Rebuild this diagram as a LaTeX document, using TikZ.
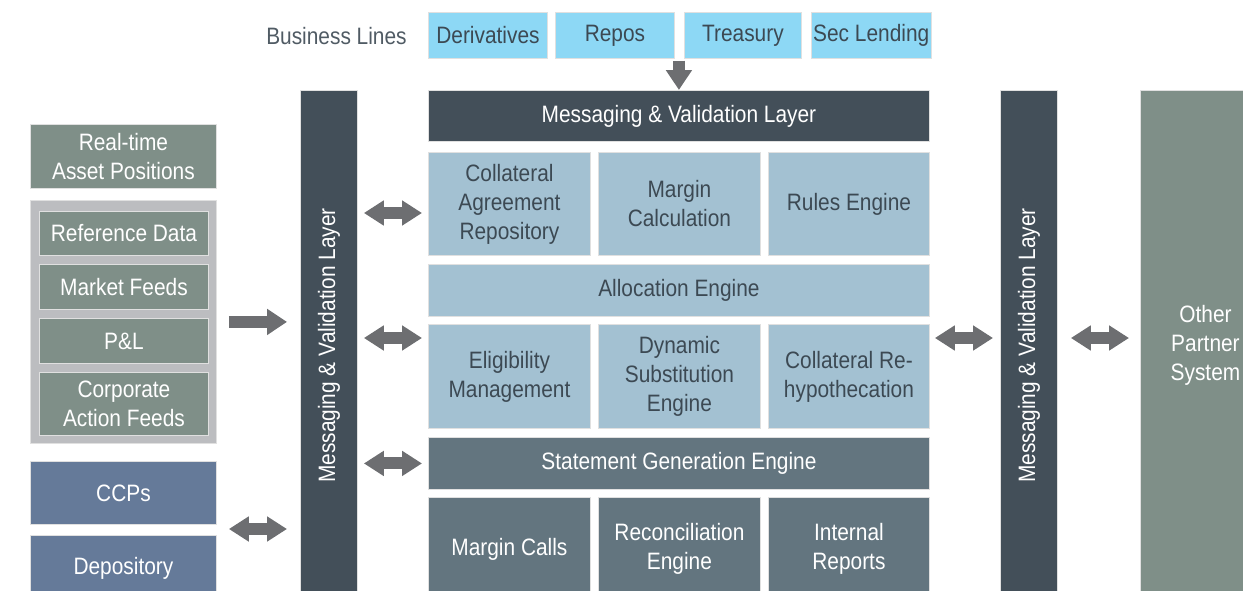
\documentclass[tikz,border=0pt]{standalone}
\usepackage{fontspec}
\setmainfont{Liberation Sans}[FakeStretch=0.88]
\usepackage{tikz}
\usetikzlibrary{arrows.meta}
\usepackage{xcolor}

\definecolor{linha}{HTML}{8DD8F5}
\definecolor{camada}{HTML}{434F59}
\definecolor{nucleo}{HTML}{A3C1D2}
\definecolor{saida}{HTML}{63757F}
\definecolor{fonte}{HTML}{7F8F88}
\definecolor{grupo}{HTML}{BCBDC0}
\definecolor{externo}{HTML}{657A99}
\definecolor{seta}{HTML}{6D6E71}
\definecolor{tinta}{HTML}{3C4953}

\tikzset{
  letra/.style={font=\fontsize{13.5}{16.5}\selectfont},
  caixa/.style={draw=black!12, line width=0.5pt, anchor=north west, align=center,
    inner sep=1pt, letra},
  tam/.style 2 args={minimum width=#1*0.02cm, minimum height=#2*0.02cm},
  clara/.style={caixa, text=tinta},
  escura/.style={caixa, text=white},
  grossa/.style={seta, line width=0.25cm, -{Triangle[width=0.5cm,length=0.4cm]}},
  dupla/.style={seta, line width=0.24cm, {Triangle[width=0.48cm,length=0.4cm]}-{Triangle[width=0.48cm,length=0.4cm]}}
}

\begin{document}
\begin{tikzpicture}[x=0.02cm, y=-0.02cm]
    \useasboundingbox (0,0) rectangle (1243,591);
    \clip (0,0) rectangle (1243,591);
    % Linhas de negocio
    \node[anchor=east, text=tinta!90, letra, inner sep=0pt] (rotulo) at (407,36) {Business Lines};
    \node[clara, fill=linha, tam={119}{46}] (deriv) at (428,12) {Derivatives};
    \node[clara, fill=linha, tam={119}{46}] (repos) at (555,12) {Repos};
    \node[clara, fill=linha, tam={117}{46}] (tesou) at (684,12) {Treasury};
    \node[clara, fill=linha, tam={118}{46}] (emprest) at (811,12) {Sec Lending};
    % Bloco central
    \node[escura, fill=camada, tam={501}{51}] (topo) at (428,90) {Messaging \& Validation Layer};
    \node[clara, fill=nucleo, tam={162}{103}] (acordo) at (428,152) {Collateral\\Agreement\\Repository};
    \node[clara, fill=nucleo, tam={162}{103}] (calc) at (598,152) {Margin\\Calculation};
    \node[clara, fill=nucleo, tam={161}{103}] (regras) at (768,152) {Rules Engine};
    \node[clara, fill=nucleo, tam={501}{52}] (aloc) at (428,264) {Allocation Engine};
    \node[clara, fill=nucleo, tam={162}{104}] (elegib) at (428,324) {Eligibility\\Management};
    \node[clara, fill=nucleo, tam={162}{104}] (subst) at (598,324) {Dynamic\\Substitution\\Engine};
    \node[clara, fill=nucleo, tam={161}{104}] (rehip) at (768,324) {Collateral Re-\\hypothecation};
    \node[escura, fill=saida, tam={501}{52}] (extrato) at (428,437) {Statement Generation Engine};
    \node[escura, fill=saida, tam={162}{103}] (chamadas) at (428,497) {Margin Calls};
    \node[escura, fill=saida, tam={162}{103}] (concil) at (598,497) {Reconciliation\\Engine};
    \node[escura, fill=saida, tam={161}{103}] (relat) at (768,497) {Internal\\Reports};
    % Camadas verticais
    \node[escura, fill=camada, tam={57}{510}] (barraE) at (300,90) {};
    \node[rotate=90, text=white, letra] at (barraE.center) {Messaging \& Validation Layer};
    \node[escura, fill=camada, tam={57}{510}] (barraD) at (1000,90) {};
    \node[rotate=90, text=white, letra] at (barraD.center) {Messaging \& Validation Layer};
    \node[escura, fill=fonte, tam={130}{510}] (parceiro) at (1140,90) {Other\\Partner\\System};
    % Fontes de dados
    \node[escura, fill=fonte, tam={186}{64}] (posicoes) at (30,124) {Real-time\\Asset Positions};
    \node[caixa, fill=grupo, tam={186}{243}] (dados) at (30,200) {};
    \node[escura, fill=fonte, tam={169}{44}] (refer) at (39,211) {Reference Data};
    \node[escura, fill=fonte, tam={169}{45}] (mercado) at (39,264) {Market Feeds};
    \node[escura, fill=fonte, tam={169}{45}] (pnl) at (39,318) {P\&L};
    \node[escura, fill=fonte, tam={169}{63}] (eventos) at (39,372) {Corporate\\Action Feeds};
    \node[escura, fill=externo, tam={186}{63}] (ccps) at (30,461) {CCPs};
    \node[escura, fill=externo, tam={186}{65}] (deposit) at (30,535) {Depository};
    % Pontos de apoio das setas
    \coordinate (y1) at (0,213);
    \coordinate (y2) at (0,338);
    \coordinate (y3) at (0,529);
    % Setas
    \draw[grossa, shorten <=1pt] (topo.north |- repos.south) -- (topo.north);
    \draw[grossa, shorten <=0.24cm, shorten >=0.26cm] (dados.east) -- (dados.east -| barraE.west);
    \draw[dupla, shorten <=0.24cm, shorten >=0.26cm] (y3 -| ccps.east) -- (y3 -| barraE.west);
    \draw[dupla, shorten <=0.12cm, shorten >=0.12cm] (y1 -| barraE.east) -- (y1 -| acordo.west);
    \draw[dupla, shorten <=0.12cm, shorten >=0.12cm] (y2 -| barraE.east) -- (y2 -| elegib.west);
    \draw[dupla, shorten <=0.12cm, shorten >=0.12cm] (extrato.west -| barraE.east) -- (extrato.west);
    \draw[dupla, shorten <=0.1cm, shorten >=0.14cm] (y2 -| rehip.east) -- (y2 -| barraD.west);
    \draw[dupla, shorten <=0.26cm, shorten >=0.22cm] (y2 -| barraD.east) -- (y2 -| parceiro.west);
\end{tikzpicture}
\end{document}
